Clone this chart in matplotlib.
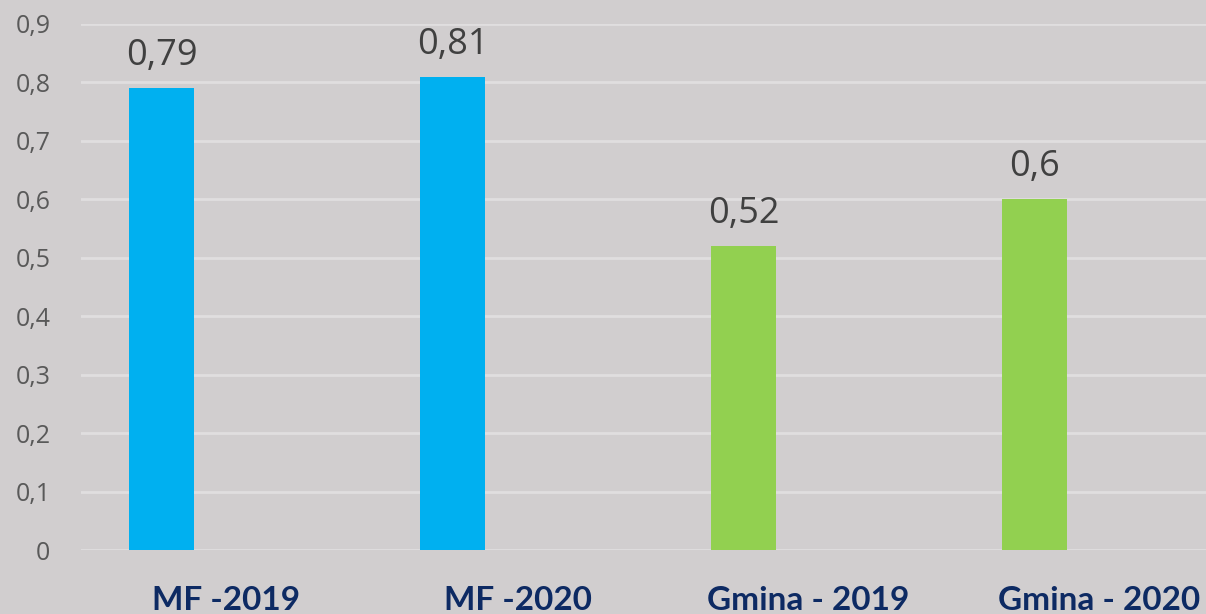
import matplotlib.pyplot as plt
import numpy as np

# dane
categories = ['MF -2019', 'MF -2020', 'Gmina - 2019', 'Gmina - 2020']
values = [0.79, 0.81, 0.52, 0.6]
value_labels = ['0,79', '0,81', '0,52', '0,6']
bar_colors = ['#00b0f0', '#00b0f0', '#92d050', '#92d050']
yticks = [0, 0.1, 0.2, 0.3, 0.4, 0.5, 0.6, 0.7, 0.8, 0.9]
ytick_labels = ['0', '0,1', '0,2', '0,3', '0,4', '0,5', '0,6', '0,7', '0,8', '0,9']

bg = '#d1cecf'

fig = plt.figure(figsize=(12.06, 6.14), dpi=100, facecolor=bg)
ax = fig.add_axes([81 / 1206, 1 - 550 / 614, 1 - 81 / 1206, (550 - 24) / 614])
ax.set_facecolor(bg)

x = np.arange(len(categories))
offset = 0.2235
width = 0.2235
bars = ax.bar(x - offset, values, width=width, color=bar_colors, zorder=3)

# etykiety nad słupkami
for b, lab in zip(bars, value_labels):
    ax.annotate(lab, xy=(b.get_x() + b.get_width() / 2, b.get_height()),
                xytext=(0, 10), textcoords='offset points', ha='center', va='bottom',
                fontsize=26, color='#404040', family='Open Sans')

ax.set_xlim(-0.5, -0.5 + (1206 - 81) / 291)
ax.set_ylim(0, 0.9)
ax.set_yticks(yticks)
ax.set_yticklabels(ytick_labels, fontsize=18, color='#595959', family='Open Sans')
ax.set_xticks(x)
ax.set_xticklabels(categories, fontsize=24, fontweight='bold', color='#0d2a63', family='Lato')
ax.tick_params(axis='y', length=0, pad=22)
ax.tick_params(axis='x', length=0, pad=26)

ax.grid(axis='y', color='#e0dedf', linewidth=2, zorder=0)
ax.set_axisbelow(True)
for s in ax.spines.values():
    s.set_visible(False)

plt.savefig('out.png', dpi=100, facecolor=bg)
